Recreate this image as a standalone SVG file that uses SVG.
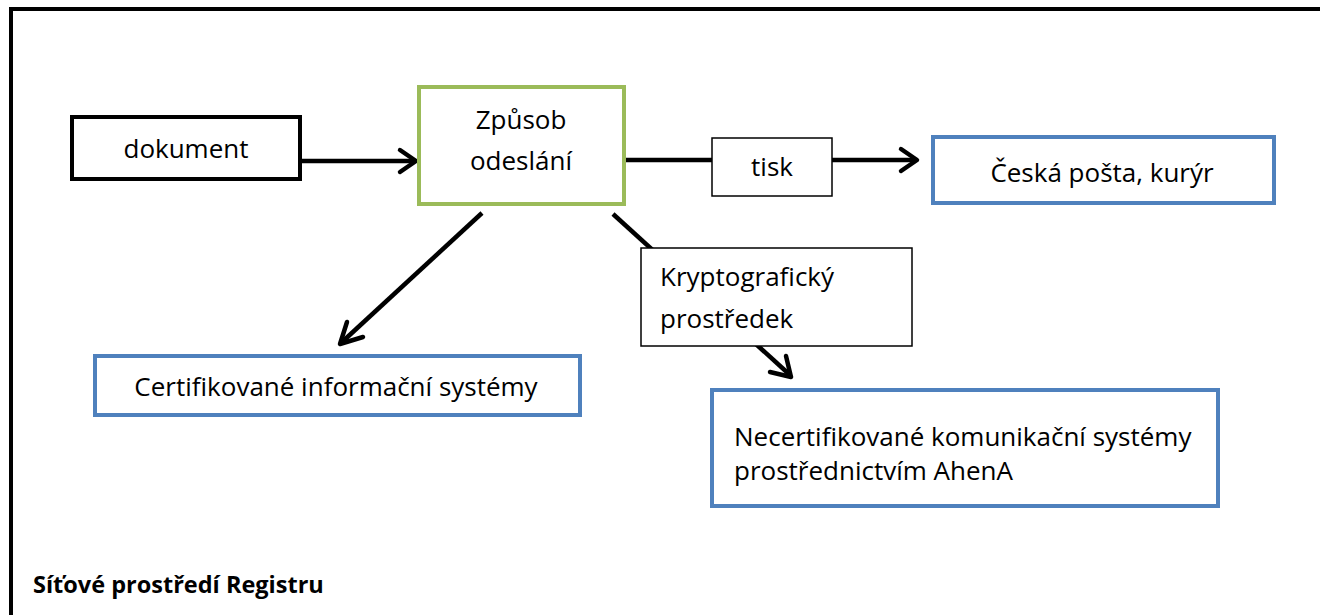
<svg xmlns="http://www.w3.org/2000/svg" width="1320" height="615" viewBox="0 0 1320 615">
<defs>
<style>
text{font-family:"Open Sans","Noto Sans","DejaVu Sans",sans-serif;font-size:26px;fill:#000}
.c{text-anchor:middle}
.b{font-weight:bold;font-size:23.5px}
.thick{fill:#fff;stroke:#000;stroke-width:4}
.thin{fill:#fff;stroke:#000;stroke-width:1.5}
.green{fill:#fff;stroke:#9BBB59;stroke-width:4}
.blue{fill:#fff;stroke:#4F81BD;stroke-width:4}
.line{fill:none;stroke:#000;stroke-width:4.5}
.head{fill:none;stroke:#000;stroke-width:4.5;stroke-linecap:round;stroke-linejoin:round}
</style>
</defs>
<rect x="0" y="0" width="1320" height="615" fill="#fff"/>
<g id="frame">
<path d="M11,615 L11,9 L1320,9" fill="none" stroke="#000" stroke-width="4"/>
</g>
<g id="connectors">
<line class="line" x1="302" y1="161" x2="415" y2="161"/>
<path class="head" d="M400,150 L416,161 L400,172"/>
<line class="line" x1="626" y1="160" x2="712" y2="160"/>
<line class="line" x1="832" y1="160" x2="916" y2="160"/>
<path class="head" d="M901,149 L917,160 L901,171"/>
<line class="line" x1="482" y1="213" x2="341" y2="343"/>
<path class="head" d="M347,322 L340,344 L363,337"/>
<line class="line" x1="613" y1="214" x2="790" y2="375"/>
<path class="head" d="M770,372 L791,377 L786,356"/>
</g>
<g id="dokument">
<rect class="thick" x="72" y="117" width="228" height="62"/>
<text class="c" x="186" y="158">dokument</text>
</g>
<g id="zpusob">
<rect class="green" x="419" y="87" width="205" height="117"/>
<text class="c" x="521" y="129">Způsob</text>
<text class="c" x="521" y="170">odeslání</text>
</g>
<g id="tisk">
<rect class="thin" x="712" y="138" width="120" height="58"/>
<text class="c" x="772" y="176">tisk</text>
</g>
<g id="ceska">
<rect class="blue" x="933" y="137" width="341" height="66"/>
<text class="c" x="1102" y="182">Česká pošta, kurýr</text>
</g>
<g id="krypto">
<rect class="thin" x="641" y="248" width="271" height="98"/>
<text x="660" y="286">Kryptografický</text>
<text x="660" y="328">prostředek</text>
</g>
<g id="certifikovane">
<rect class="blue" x="95" y="356" width="485" height="59"/>
<text class="c" x="336" y="396">Certifikované informační systémy</text>
</g>
<g id="necertifikovane">
<rect class="blue" x="712" y="390" width="506" height="116"/>
<text x="734" y="446">Necertifikované komunikační systémy</text>
<text x="734" y="480">prostřednictvím AhenA</text>
</g>
<g id="caption">
<text class="b" x="33" y="593">Síťové prostředí Registru</text>
</g>
</svg>
